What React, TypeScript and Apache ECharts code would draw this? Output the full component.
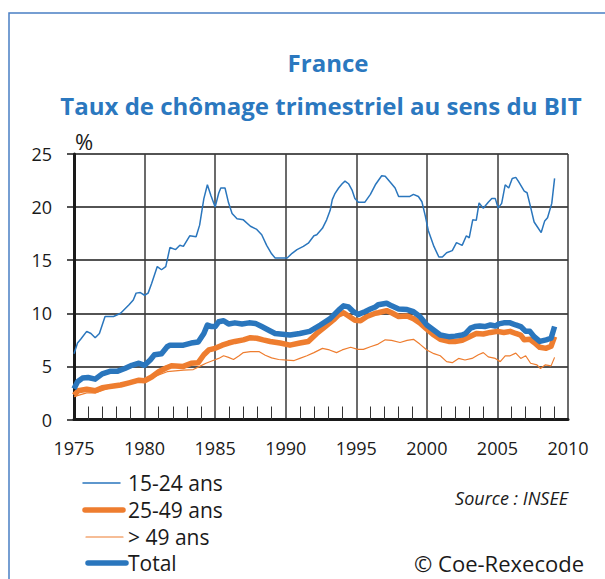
import React, { useEffect, useRef } from "react";
import * as echarts from "echarts";

// Data: [year, unemployment rate %]
const youth1524: [number, number][] = [
  [1975.0, 6.2], [1975.25, 7.2], [1975.5, 7.6], [1975.9, 8.3], [1976.2, 8.1], [1976.5, 7.7], [1976.8, 8.1],
  [1977.2, 9.7], [1977.8, 9.7], [1978.3, 10.0], [1978.9, 10.8], [1979.2, 11.25], [1979.4, 11.9], [1979.7, 11.95],
  [1980.0, 11.7], [1980.25, 11.9], [1980.5, 12.8], [1980.9, 14.4], [1981.2, 14.1], [1981.5, 14.4], [1981.8, 16.2],
  [1982.2, 16.0], [1982.5, 16.4], [1982.75, 16.3], [1983.2, 17.3], [1983.65, 17.2], [1983.9, 18.3], [1984.2, 20.8],
  [1984.45, 22.1], [1984.7, 21.1], [1985.0, 20.0], [1985.25, 21.3], [1985.4, 21.8], [1985.7, 21.8], [1985.95, 20.4],
  [1986.2, 19.4], [1986.55, 18.9], [1987.0, 18.8], [1987.5, 18.2], [1987.95, 17.9], [1988.3, 17.4], [1988.65, 16.4],
  [1989.0, 15.6], [1989.25, 15.2], [1989.5, 15.2], [1990.1, 15.2], [1990.45, 15.65], [1990.8, 16.0], [1991.25, 16.3],
  [1991.6, 16.6], [1992.0, 17.3], [1992.2, 17.4], [1992.6, 18.0], [1992.9, 18.8], [1993.15, 19.7], [1993.3, 20.7],
  [1993.5, 21.3], [1993.75, 21.8], [1994.0, 22.2], [1994.2, 22.45], [1994.45, 22.2], [1994.7, 21.6], [1994.9, 20.8],
  [1995.15, 20.45], [1995.6, 20.45], [1996.0, 21.2], [1996.35, 22.1], [1996.8, 22.95], [1997.05, 22.9], [1997.5, 22.2],
  [1997.75, 21.8], [1998.0, 21.0], [1998.35, 21.0], [1998.8, 21.0], [1999.05, 21.2], [1999.4, 21.0], [1999.65, 20.5],
  [1999.9, 19.1], [2000.1, 17.8], [2000.5, 16.3], [2000.85, 15.3], [2001.1, 15.3], [2001.4, 15.7], [2001.8, 15.9],
  [2002.1, 16.65], [2002.5, 16.4], [2002.8, 17.3], [2003.0, 17.1], [2003.25, 18.8], [2003.5, 18.75], [2003.7, 20.4],
  [2004.0, 19.9], [2004.35, 20.45], [2004.6, 20.8], [2004.85, 20.8], [2005.05, 19.9], [2005.3, 20.35], [2005.55, 22.1],
  [2005.8, 21.8], [2006.05, 22.7], [2006.3, 22.8], [2006.5, 22.4], [2006.9, 21.5], [2007.1, 21.35], [2007.35, 20.0],
  [2007.6, 18.6], [2007.8, 18.2], [2008.1, 17.6], [2008.35, 18.7], [2008.55, 19.0], [2008.85, 20.35], [2009.05, 22.7],
];

const adults2549: [number, number][] = [
  [1975.0, 2.3], [1975.3, 2.7], [1975.9, 2.85], [1976.5, 2.7], [1977.0, 3.0], [1977.8, 3.15], [1978.3, 3.25],
  [1978.9, 3.45], [1979.6, 3.7], [1980.0, 3.65], [1980.5, 4.0], [1981.0, 4.5], [1981.6, 4.9], [1981.9, 5.05],
  [1982.75, 5.0], [1983.3, 5.3], [1983.8, 5.35], [1984.2, 6.1], [1984.55, 6.55], [1985.0, 6.7], [1985.5, 7.0],
  [1985.95, 7.2], [1986.4, 7.35], [1987.0, 7.5], [1987.5, 7.7], [1987.95, 7.65], [1988.4, 7.5], [1988.9, 7.35],
  [1989.6, 7.2], [1990.3, 7.0], [1991.0, 7.2], [1991.6, 7.35], [1992.2, 8.1], [1992.8, 8.75], [1993.4, 9.4],
  [1993.75, 9.85], [1994.1, 10.05], [1994.45, 9.75], [1994.9, 9.35], [1995.3, 9.3], [1995.75, 9.7], [1996.35, 10.0],
  [1996.55, 10.05], [1997.15, 10.25], [1997.5, 10.05], [1998.0, 9.7], [1998.6, 9.75], [1999.05, 9.5], [1999.5, 9.1],
  [2000.0, 8.5], [2000.5, 7.95], [2000.95, 7.55], [2001.55, 7.35], [2002.0, 7.35], [2002.5, 7.45], [2002.95, 7.75],
  [2003.5, 8.1], [2004.0, 8.05], [2004.5, 8.2], [2005.0, 8.3], [2005.45, 8.2], [2005.9, 8.3], [2006.3, 8.1],
  [2006.65, 7.95], [2006.9, 7.5], [2007.3, 7.55], [2007.6, 7.25], [2008.0, 6.8], [2008.45, 6.7], [2008.8, 6.9],
  [2009.05, 7.8],
];

const seniors49: [number, number][] = [
  [1975.0, 2.15], [1975.9, 2.5], [1976.5, 2.5], [1977.8, 3.1], [1978.9, 3.4], [1980.0, 3.65], [1981.0, 4.2],
  [1981.6, 4.5], [1982.75, 4.65], [1983.45, 4.7], [1983.9, 5.0], [1984.35, 5.3], [1984.85, 5.55], [1985.25, 5.75],
  [1985.6, 6.0], [1985.95, 5.85], [1986.3, 5.65], [1986.7, 6.0], [1987.0, 6.3], [1987.5, 6.4], [1988.1, 6.4],
  [1988.55, 6.05], [1989.0, 5.8], [1989.5, 5.65], [1990.1, 5.6], [1990.6, 5.55], [1991.0, 5.75], [1991.5, 6.0],
  [1992.0, 6.3], [1992.6, 6.7], [1993.1, 6.55], [1993.6, 6.3], [1994.0, 6.55], [1994.6, 6.8], [1995.1, 6.6],
  [1995.5, 6.6], [1996.0, 6.85], [1996.55, 7.1], [1997.05, 7.5], [1997.5, 7.45], [1998.1, 7.25], [1998.6, 7.45],
  [1999.05, 7.55], [1999.5, 7.1], [2000.0, 6.55], [2000.5, 6.2], [2000.95, 6.0], [2001.4, 5.45], [2001.8, 5.35],
  [2002.25, 5.75], [2002.7, 5.6], [2003.2, 5.75], [2003.65, 6.1], [2004.0, 6.3], [2004.35, 5.9], [2004.85, 5.75],
  [2005.2, 5.45], [2005.55, 6.0], [2005.9, 6.0], [2006.3, 6.25], [2006.65, 5.75], [2007.0, 6.0], [2007.35, 5.3],
  [2007.8, 5.15], [2008.05, 4.8], [2008.4, 5.15], [2008.8, 5.05], [2009.05, 5.85],
];

const total: [number, number][] = [
  [1975.0, 2.9], [1975.25, 3.55], [1975.6, 3.9], [1976.0, 3.95], [1976.5, 3.8], [1977.0, 4.3], [1977.6, 4.55],
  [1978.1, 4.55], [1978.6, 4.8], [1979.1, 5.1], [1979.6, 5.3], [1980.0, 5.1], [1980.4, 5.6], [1980.7, 6.1],
  [1981.2, 6.2], [1981.6, 6.85], [1981.8, 7.0], [1982.75, 7.0], [1983.3, 7.2], [1983.8, 7.3], [1984.2, 8.1],
  [1984.45, 8.9], [1984.75, 8.75], [1985.0, 8.75], [1985.25, 9.2], [1985.6, 9.3], [1985.95, 9.0], [1986.4, 9.1],
  [1986.9, 9.0], [1987.4, 9.1], [1987.85, 9.05], [1988.3, 8.75], [1988.8, 8.4], [1989.25, 8.1], [1989.6, 8.05],
  [1990.3, 7.95], [1991.0, 8.1], [1991.7, 8.3], [1992.45, 8.9], [1993.15, 9.5], [1993.75, 10.3], [1994.1, 10.7],
  [1994.45, 10.6], [1994.8, 10.15], [1995.15, 9.9], [1995.6, 10.15], [1996.0, 10.4], [1996.35, 10.6], [1996.55, 10.8],
  [1997.15, 10.95], [1997.5, 10.7], [1998.0, 10.4], [1998.6, 10.35], [1999.05, 10.15], [1999.5, 9.7], [2000.0, 8.9],
  [2000.5, 8.4], [2000.95, 7.95], [2001.55, 7.8], [2002.0, 7.85], [2002.5, 7.95], [2002.75, 8.1], [2003.1, 8.6],
  [2003.4, 8.75], [2003.75, 8.8], [2004.1, 8.75], [2004.5, 8.9], [2004.85, 8.8], [2005.1, 9.0], [2005.45, 9.1],
  [2005.9, 9.1], [2006.3, 8.9], [2006.65, 8.75], [2007.0, 8.3], [2007.3, 8.3], [2007.6, 7.8], [2008.0, 7.35],
  [2008.45, 7.5], [2008.8, 7.65], [2009.05, 8.75],
];

const seriesNames = ["15-24 ans", "25-49 ans", "> 49 ans", "Total"];
const yearTicks = [1975, 1980, 1985, 1990, 1995, 2000, 2005, 2010];

const BLUE = "#2a76bd";
const ORANGE = "#ee7d2f";
const TITLE_BLUE = "#2b78bf";
const FONT = "'Open Sans', 'Noto Sans', sans-serif";

export default function App() {
  const ref = useRef<HTMLDivElement>(null);

  useEffect(() => {
    if (!ref.current) return;
    const chart = echarts.init(ref.current, null, { renderer: "svg" });

    const legendRows = [
      { name: seriesNames[0], color: BLUE, width: 1.5, x1: 83, x2: 120, y: 483 },
      { name: seriesNames[1], color: ORANGE, width: 5.5, x1: 85, x2: 123, y: 510 },
      { name: seriesNames[2], color: ORANGE, width: 1.2, x1: 86, x2: 123, y: 537 },
      { name: seriesNames[3], color: BLUE, width: 5.5, x1: 88, x2: 126, y: 563 },
    ];

    const legendGraphics: any[] = [];
    legendRows.forEach((r) => {
      legendGraphics.push({
        type: "line",
        shape: { x1: r.x1, y1: r.y, x2: r.x2, y2: r.y },
        style: { stroke: r.color, lineWidth: r.width, lineCap: "round" },
      });
      legendGraphics.push({
        type: "text",
        x: 128,
        y: r.y,
        style: {
          text: r.name,
          fontSize: 21,
          lineHeight: 22,
          fontFamily: FONT,
          fill: "#1a1a1a",
          verticalAlign: "middle",
        },
      });
    });

    chart.setOption({
      animation: false,
      backgroundColor: "#ffffff",
      grid: { left: 74, right: 37, top: 154, bottom: 159.5, containLabel: false },
      xAxis: {
        type: "value",
        min: 1975,
        max: 2010,
        interval: 5,
        axisLine: { show: true, onZero: false, lineStyle: { color: "#1a1a1a", width: 3 } },
        axisTick: { show: false, inside: true },
        minorTick: { show: true, splitNumber: 5, length: 13, lineStyle: { color: "#333", width: 1 } },
        splitLine: { show: true, lineStyle: { color: "#3a3a3a", width: 1.5 } },
        axisLabel: {
          fontSize: 18,
          fontFamily: FONT,
          color: "#1a1a1a",
          margin: 19,
          formatter: (v: number) => (yearTicks.includes(v) ? String(v) : ""),
        },
      },
      yAxis: {
        type: "value",
        min: 0,
        max: 25,
        interval: 5,
        axisLine: { show: true, lineStyle: { color: "#1a1a1a", width: 3 } },
        axisTick: { show: true, length: 7, lineStyle: { color: "#1a1a1a", width: 1.5 } },
        splitLine: { show: true, lineStyle: { color: "#1a1a1a", width: 1.5 } },
        axisLabel: { fontSize: 18, fontFamily: FONT, color: "#1a1a1a", margin: 22 },
      },
      series: [
        {
          name: seriesNames[0], type: "line", data: youth1524, showSymbol: false, symbol: "none",
          lineStyle: { color: BLUE, width: 1.5 }, z: 2,
        },
        {
          name: seriesNames[1], type: "line", data: adults2549, showSymbol: false, symbol: "none",
          lineStyle: { color: ORANGE, width: 5.5, join: "round" }, z: 3,
        },
        {
          name: seriesNames[2], type: "line", data: seniors49, showSymbol: false, symbol: "none",
          lineStyle: { color: ORANGE, width: 1.2 }, z: 4,
        },
        {
          name: seriesNames[3], type: "line", data: total, showSymbol: false, symbol: "none",
          lineStyle: { color: BLUE, width: 5.5, join: "round" }, z: 5,
        },
      ],
      graphic: [
        {
          type: "rect",
          shape: { x: 9, y: 13, width: 620, height: 600 },
          style: { fill: "none", stroke: "#4a7fc4", lineWidth: 1.5 },
          z: -1,
        },
        {
          type: "text",
          x: 328,
          y: 62,
          style: {
            text: "France",
            fontSize: 24,
            fontWeight: "bold",
            fontFamily: FONT,
            fill: TITLE_BLUE,
            align: "center",
            verticalAlign: "middle",
          },
        },
        {
          type: "text",
          x: 321,
          y: 105,
          style: {
            text: "Taux de chômage trimestriel au sens du BIT",
            fontSize: 24,
            fontWeight: "bold",
            fontFamily: FONT,
            fill: TITLE_BLUE,
            align: "center",
            verticalAlign: "middle",
          },
        },
        {
          type: "text",
          x: 75,
          y: 141,
          style: { text: "%", fontSize: 22, fontFamily: FONT, fill: "#1a1a1a", verticalAlign: "middle" },
        },
        {
          type: "text",
          x: 568,
          y: 498,
          style: {
            text: "Source : INSEE",
            fontSize: 18,
            fontStyle: "italic",
            fontFamily: FONT,
            fill: "#1a1a1a",
            align: "right",
            verticalAlign: "middle",
          },
        },
        {
          type: "text",
          x: 584,
          y: 563,
          style: {
            text: "© Coe-Rexecode",
            fontSize: 22,
            lineHeight: 23,
            fontFamily: FONT,
            fill: "#1a1a1a",
            align: "right",
            verticalAlign: "middle",
          },
        },
        ...legendGraphics,
      ],
    });

    return () => chart.dispose();
  }, []);

  return (
    <div
      ref={ref}
      style={{ position: "absolute", left: 0, top: 0, width: 605, height: 579, background: "#fff" }}
    />
  );
}
